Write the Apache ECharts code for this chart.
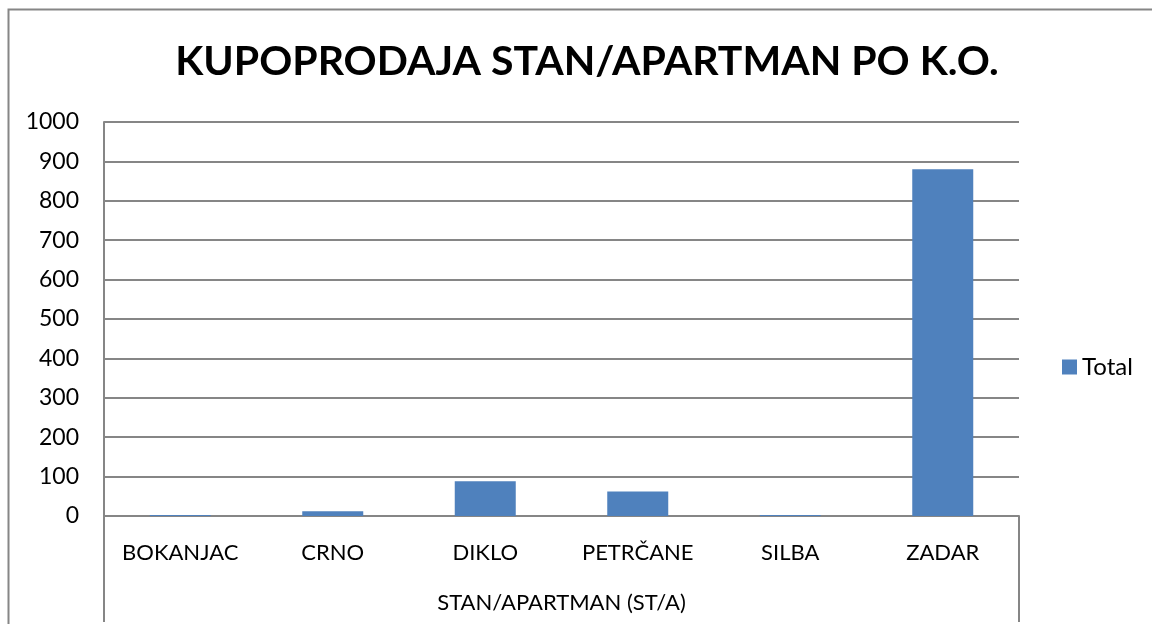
<!DOCTYPE html>
<html>
<head>
<meta charset="utf-8">
<script src="https://cdn.jsdelivr.net/npm/echarts@6/dist/echarts.min.js"></script>
<style>
  html, body { margin: 0; padding: 0; background: #fff; }
  #chart { width: 1152px; height: 624px; }
</style>
</head>
<body>
<div id="chart"></div>
<script>
// chart data
var categories = ['BOKANJAC', 'CRNO', 'DIKLO', 'PETRČANE', 'SILBA', 'ZADAR'];
var totals = [2, 12, 88, 62, 2, 880];
var groupLabel = ['STAN/APARTMAN (ST/A)'];
var seriesName = 'Total';

var chartDom = document.getElementById('chart');
var myChart = echarts.init(chartDom);
var font = 'Lato';
var option = {
    animation: false,
    textStyle: { fontFamily: font },
    title: {
        text: 'KUPOPRODAJA STAN/APARTMAN PO K.O.',
        left: 582,
        textAlign: 'center',
        top: 36,
        textStyle: {
            color: '#000',
            fontFamily: font,
            fontSize: 41,
            fontWeight: 'bold'
        }
    },
    legend: {
        data: [seriesName],
        orient: 'vertical',
        left: 1057,
        top: 350,
        icon: 'rect',
        itemWidth: 15,
        itemHeight: 15,
        itemGap: 8,
        textStyle: { color: '#000', fontFamily: font, fontSize: 24 }
    },
    graphic: [
        {
            type: 'rect',
            shape: { x: 8.5, y: 9.5, width: 1200, height: 700 },
            style: { fill: 'none', stroke: '#868686', lineWidth: 2 },
            silent: true
        }
    ],
    grid: { left: 104, right: 133, top: 122, bottom: 108 },
    xAxis: [
        {
            type: 'category',
            data: categories,
            axisLine: { lineStyle: { color: '#868686', width: 2 } },
            axisTick: { show: false },
            axisLabel: { color: '#000', fontSize: 22, margin: 26, fontFamily: font }
        },
        {
            type: 'category',
            position: 'bottom',
            data: groupLabel,
            axisLine: { show: false },
            axisTick: { show: true, length: 106, lineStyle: { color: '#868686', width: 2 } },
            axisLabel: { color: '#000', fontSize: 22, margin: 76, fontFamily: font }
        }
    ],
    yAxis: {
        type: 'value',
        min: 0,
        max: 1000,
        interval: 100,
        axisLine: { show: true, lineStyle: { color: '#868686', width: 2 } },
        axisTick: { show: false },
        axisLabel: {
            color: '#000', fontSize: 23, margin: 25, fontFamily: font,
            formatter: function (v) { return String(v); }
        },
        splitLine: { lineStyle: { color: '#868686', width: 2 } }
    },
    series: [
        {
            name: seriesName,
            type: 'bar',
            data: totals,
            barWidth: '40%',
            barMinHeight: 1,
            itemStyle: { color: '#4F81BD' }
        }
    ]
};
option && myChart.setOption(option);
window.addEventListener('resize', function () {
    myChart.resize();
});
</script>
</body>
</html>
